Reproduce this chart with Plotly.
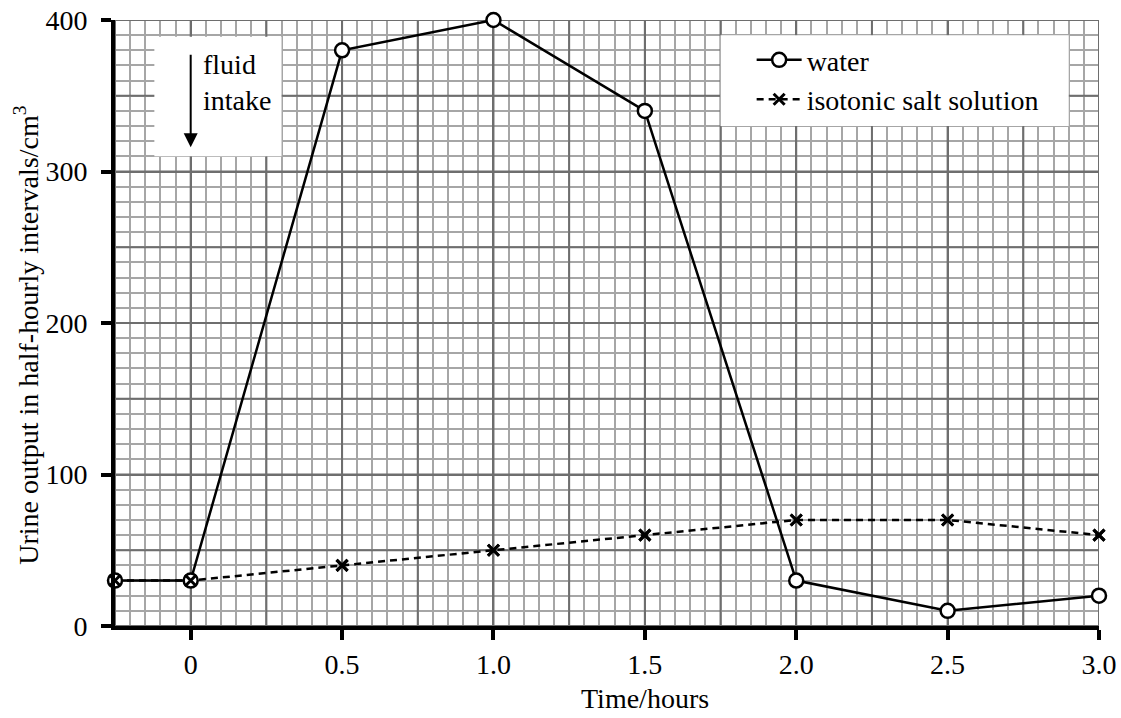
import plotly.graph_objects as go

# ---- data ----
time_h = [-0.25, 0, 0.5, 1.0, 1.5, 2.0, 2.5, 3.0]
water = [30, 30, 380, 400, 340, 30, 10, 20]
salt = [30, 30, 40, 50, 60, 70, 70, 60]

x_tickvals = [0, 0.5, 1.0, 1.5, 2.0, 2.5, 3.0]
x_ticktext = ["0", "0.5", "1.0", "1.5", "2.0", "2.5", "3.0"]
y_tickvals = [0, 100, 200, 300, 400]
y_ticktext = ["0", "100", "200", "300", "400"]

FONT = "Liberation Serif"
FS = 28
MINOR_C = "#a6a6a6"
MAJOR_C = "#6e6e6e"

fig = go.Figure()

# salt line (drawn first so circles sit above it)
fig.add_trace(go.Scatter(
    x=time_h, y=salt, mode="lines+markers", name="isotonic salt solution",
    line=dict(color="black", width=2.5, dash="7px,5px"),
    marker=dict(symbol="x-thin", size=11, line=dict(color="black", width=3)),
    cliponaxis=False, legendrank=2,
))
fig.add_trace(go.Scatter(
    x=time_h, y=water, mode="lines+markers", name="water",
    line=dict(color="black", width=2.5),
    marker=dict(symbol="circle", size=14, color="white",
                line=dict(color="black", width=2.5)),
    cliponaxis=False, legendrank=1,
))
# salt markers on top of circles
fig.add_trace(go.Scatter(
    x=time_h, y=salt, mode="markers", showlegend=False,
    marker=dict(symbol="x-thin", size=11, line=dict(color="black", width=3)),
    cliponaxis=False,
))

shapes = []
# darker grid lines at every 0.25 h and every 50 units
k = -1
while k <= 12:
    xv = k * 0.25
    shapes.append(dict(type="line", xref="x", yref="y", x0=xv, x1=xv, y0=0, y1=400,
                       line=dict(color=MAJOR_C, width=2), layer="between"))
    k += 1
for yv in range(0, 401, 50):
    shapes.append(dict(type="line", xref="x", yref="y", x0=-0.25, x1=3.0, y0=yv, y1=yv,
                       line=dict(color=MAJOR_C, width=2), layer="between"))
# white boxes
shapes.append(dict(type="rect", xref="x", yref="y", x0=1.75, x1=2.9, y0=330, y1=390,
                   fillcolor="white", line=dict(width=0), layer="between"))
shapes.append(dict(type="rect", xref="x", yref="y", x0=-0.12, x1=0.30, y0=310, y1=389,
                   fillcolor="white", line=dict(width=0), layer="between"))

fig.update_layout(
    width=1121, height=718,
    margin=dict(l=115, r=22, t=20, b=92, autoexpand=False),
    paper_bgcolor="white", plot_bgcolor="white",
    font=dict(family=FONT, size=FS, color="black"),
    shapes=shapes,
    showlegend=True,
    legend=dict(x=0.647, y=0.975, xanchor="left", yanchor="top",
                bgcolor="rgba(0,0,0,0)", font=dict(family=FONT, size=FS),
                itemwidth=45, tracegroupgap=0),
    annotations=[
        dict(x=0, y=316, ax=0, ay=378, xref="x", yref="y", axref="x", ayref="y",
             text="", showarrow=True, arrowhead=2, arrowsize=1.4, arrowwidth=2,
             arrowcolor="black"),
        dict(x=0.035, y=359, xref="x", yref="y", text="fluid<br>intake",
             showarrow=False, xanchor="left", align="left",
             font=dict(family=FONT, size=FS)),
        dict(x=1.5, y=-0.09, xref="x", yref="paper", text="Time/hours",
             showarrow=False, xanchor="center", yanchor="top",
             font=dict(family=FONT, size=FS)),
        dict(x=-0.0894, y=0.479, xref="paper", yref="paper",
             text="Urine output in half-hourly intervals/cm<sup>3</sup>",
             showarrow=False, textangle=-90, xanchor="center", yanchor="middle",
             font=dict(family=FONT, size=FS)),
    ],
)

fig.update_xaxes(
    range=[-0.25, 3.0], tickvals=x_tickvals, ticktext=x_ticktext,
    automargin=False, ticklabeloverflow="allow",
    showgrid=True, gridcolor=MAJOR_C, gridwidth=2,
    minor=dict(dtick=0.05, tick0=0, showgrid=True, gridcolor=MINOR_C, gridwidth=1.5),
    showline=True, linecolor="black", linewidth=4,
    ticks="outside", ticklen=10, tickwidth=4, tickcolor="black",
    zeroline=False, tickfont=dict(family=FONT, size=FS),
)
fig.update_yaxes(
    range=[0, 400], tickvals=y_tickvals, ticktext=y_ticktext,
    automargin=False, ticklabeloverflow="allow", ticklabelstandoff=8,
    showgrid=True, gridcolor=MAJOR_C, gridwidth=2,
    minor=dict(dtick=10, tick0=0, showgrid=True, gridcolor=MINOR_C, gridwidth=1.5),
    showline=True, linecolor="black", linewidth=4,
    ticks="outside", ticklen=10, tickwidth=4, tickcolor="black",
    zeroline=False, tickfont=dict(family=FONT, size=FS),
)

fig.write_html(
    "out.html",
    config={"displayModeBar": False},
    post_script="document.body.style.margin='0';document.body.style.overflow='hidden';",
)
